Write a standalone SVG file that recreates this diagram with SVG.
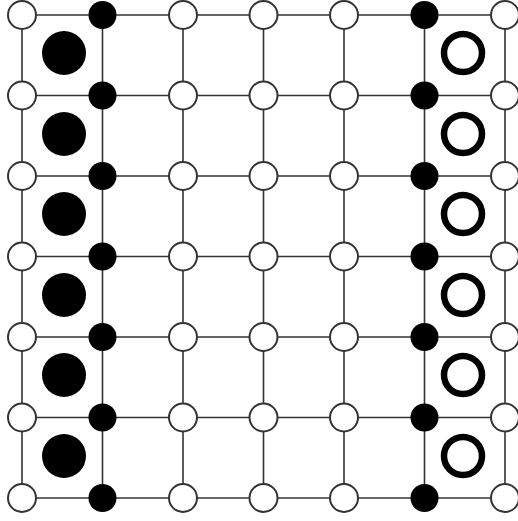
<svg xmlns="http://www.w3.org/2000/svg" width="518" height="521" viewBox="0 0 518 521">
<style>
.w{fill:#fff;stroke:#333;stroke-width:2}
.b{fill:#000}
.e line{stroke:#333;stroke-width:1.6}
.d{fill:#000}
.r{fill:none;stroke:#000;stroke-width:6.5}
</style>
<rect width="518" height="521" fill="#fff"/>
<g id="connectors" class="e">
<line x1="22" y1="15" x2="505" y2="15"/>
<line x1="22" y1="95.5" x2="505" y2="95.5"/>
<line x1="22" y1="176" x2="505" y2="176"/>
<line x1="22" y1="256.5" x2="505" y2="256.5"/>
<line x1="22" y1="337" x2="505" y2="337"/>
<line x1="22" y1="417.5" x2="505" y2="417.5"/>
<line x1="22" y1="498" x2="505" y2="498"/>
<line x1="22" y1="15" x2="22" y2="498"/>
<line x1="102.5" y1="15" x2="102.5" y2="498"/>
<line x1="183" y1="15" x2="183" y2="498"/>
<line x1="263.5" y1="15" x2="263.5" y2="498"/>
<line x1="344" y1="15" x2="344" y2="498"/>
<line x1="424.5" y1="15" x2="424.5" y2="498"/>
<line x1="505" y1="15" x2="505" y2="498"/>
</g>
<g id="n-r0c0"><circle class="w" cx="22" cy="15" r="14"/></g>
<g id="n-r0c1"><circle class="b" cx="102.5" cy="15" r="14"/></g>
<g id="n-r0c2"><circle class="w" cx="183" cy="15" r="14"/></g>
<g id="n-r0c3"><circle class="w" cx="263.5" cy="15" r="14"/></g>
<g id="n-r0c4"><circle class="w" cx="344" cy="15" r="14"/></g>
<g id="n-r0c5"><circle class="b" cx="424.5" cy="15" r="14"/></g>
<g id="n-r0c6"><circle class="w" cx="505" cy="15" r="14"/></g>
<g id="n-r1c0"><circle class="w" cx="22" cy="95.5" r="14"/></g>
<g id="n-r1c1"><circle class="b" cx="102.5" cy="95.5" r="14"/></g>
<g id="n-r1c2"><circle class="w" cx="183" cy="95.5" r="14"/></g>
<g id="n-r1c3"><circle class="w" cx="263.5" cy="95.5" r="14"/></g>
<g id="n-r1c4"><circle class="w" cx="344" cy="95.5" r="14"/></g>
<g id="n-r1c5"><circle class="b" cx="424.5" cy="95.5" r="14"/></g>
<g id="n-r1c6"><circle class="w" cx="505" cy="95.5" r="14"/></g>
<g id="n-r2c0"><circle class="w" cx="22" cy="176" r="14"/></g>
<g id="n-r2c1"><circle class="b" cx="102.5" cy="176" r="14"/></g>
<g id="n-r2c2"><circle class="w" cx="183" cy="176" r="14"/></g>
<g id="n-r2c3"><circle class="w" cx="263.5" cy="176" r="14"/></g>
<g id="n-r2c4"><circle class="w" cx="344" cy="176" r="14"/></g>
<g id="n-r2c5"><circle class="b" cx="424.5" cy="176" r="14"/></g>
<g id="n-r2c6"><circle class="w" cx="505" cy="176" r="14"/></g>
<g id="n-r3c0"><circle class="w" cx="22" cy="256.5" r="14"/></g>
<g id="n-r3c1"><circle class="b" cx="102.5" cy="256.5" r="14"/></g>
<g id="n-r3c2"><circle class="w" cx="183" cy="256.5" r="14"/></g>
<g id="n-r3c3"><circle class="w" cx="263.5" cy="256.5" r="14"/></g>
<g id="n-r3c4"><circle class="w" cx="344" cy="256.5" r="14"/></g>
<g id="n-r3c5"><circle class="b" cx="424.5" cy="256.5" r="14"/></g>
<g id="n-r3c6"><circle class="w" cx="505" cy="256.5" r="14"/></g>
<g id="n-r4c0"><circle class="w" cx="22" cy="337" r="14"/></g>
<g id="n-r4c1"><circle class="b" cx="102.5" cy="337" r="14"/></g>
<g id="n-r4c2"><circle class="w" cx="183" cy="337" r="14"/></g>
<g id="n-r4c3"><circle class="w" cx="263.5" cy="337" r="14"/></g>
<g id="n-r4c4"><circle class="w" cx="344" cy="337" r="14"/></g>
<g id="n-r4c5"><circle class="b" cx="424.5" cy="337" r="14"/></g>
<g id="n-r4c6"><circle class="w" cx="505" cy="337" r="14"/></g>
<g id="n-r5c0"><circle class="w" cx="22" cy="417.5" r="14"/></g>
<g id="n-r5c1"><circle class="b" cx="102.5" cy="417.5" r="14"/></g>
<g id="n-r5c2"><circle class="w" cx="183" cy="417.5" r="14"/></g>
<g id="n-r5c3"><circle class="w" cx="263.5" cy="417.5" r="14"/></g>
<g id="n-r5c4"><circle class="w" cx="344" cy="417.5" r="14"/></g>
<g id="n-r5c5"><circle class="b" cx="424.5" cy="417.5" r="14"/></g>
<g id="n-r5c6"><circle class="w" cx="505" cy="417.5" r="14"/></g>
<g id="n-r6c0"><circle class="w" cx="22" cy="498" r="14"/></g>
<g id="n-r6c1"><circle class="b" cx="102.5" cy="498" r="14"/></g>
<g id="n-r6c2"><circle class="w" cx="183" cy="498" r="14"/></g>
<g id="n-r6c3"><circle class="w" cx="263.5" cy="498" r="14"/></g>
<g id="n-r6c4"><circle class="w" cx="344" cy="498" r="14"/></g>
<g id="n-r6c5"><circle class="b" cx="424.5" cy="498" r="14"/></g>
<g id="n-r6c6"><circle class="w" cx="505" cy="498" r="14"/></g>
<g id="disc-1"><circle class="d" cx="64" cy="53" r="22"/></g>
<g id="disc-2"><circle class="d" cx="64" cy="134" r="22"/></g>
<g id="disc-3"><circle class="d" cx="64" cy="214" r="22"/></g>
<g id="disc-4"><circle class="d" cx="64" cy="295" r="22"/></g>
<g id="disc-5"><circle class="d" cx="64" cy="375" r="22"/></g>
<g id="disc-6"><circle class="d" cx="64" cy="456" r="22"/></g>
<g id="ring-1"><circle class="r" cx="463" cy="53" r="19"/></g>
<g id="ring-2"><circle class="r" cx="463" cy="134" r="19"/></g>
<g id="ring-3"><circle class="r" cx="463" cy="214" r="19"/></g>
<g id="ring-4"><circle class="r" cx="463" cy="295" r="19"/></g>
<g id="ring-5"><circle class="r" cx="463" cy="375" r="19"/></g>
<g id="ring-6"><circle class="r" cx="463" cy="456" r="19"/></g>
</svg>
